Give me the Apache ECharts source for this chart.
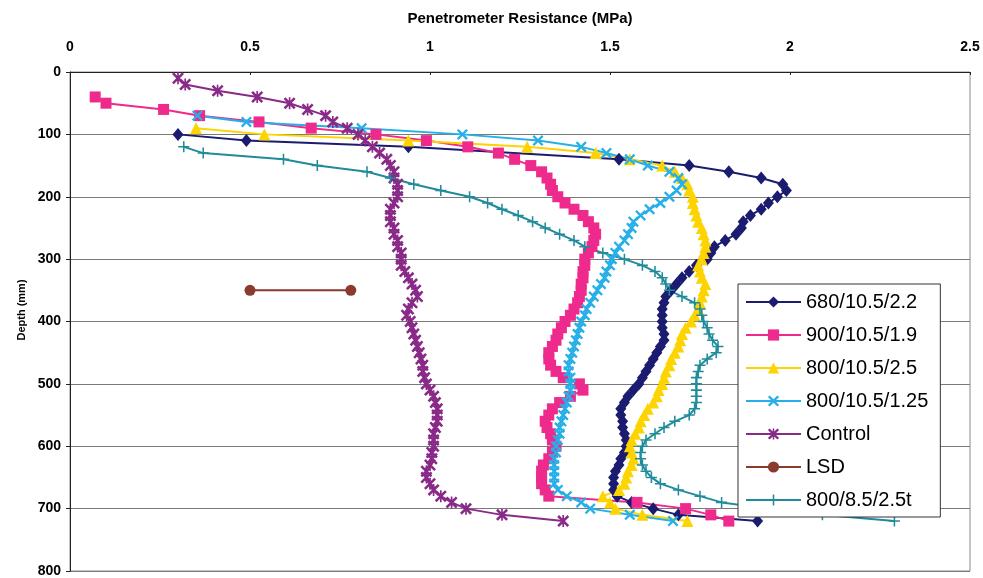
<!DOCTYPE html>
<html>
<head>
<meta charset="utf-8">
<script src="https://cdn.jsdelivr.net/npm/echarts@6/dist/echarts.min.js"></script>
<style>
html,body{margin:0;padding:0;background:#ffffff;}
#chart{width:983px;height:578px;}
</style>
</head>
<body>
<div id="chart"></div>
<script>
// Depth (mm), Penetrometer resistance (MPa)
const xTicks = [0, 0.5, 1, 1.5, 2, 2.5];
const yTicks = [0, 100, 200, 300, 400, 500, 600, 700, 800];
const seriesNames = ['680/10.5/2.2', '900/10.5/1.9', '800/10.5/2.5', '800/10.5/1.25', 'Control', 'LSD', '800/8.5/2.5t'];

const s680 = [[100,0.30],[110,0.49],[120,0.94],[140,1.525],[150,1.72],[160,1.83],[170,1.92],[180,1.98],[190,1.99],[200,1.965],[210,1.94],[220,1.92],[230,1.89],[240,1.87],[250,1.865],[260,1.85],[270,1.82],[280,1.79],[290,1.78],[300,1.77],[310,1.74],[320,1.72],[330,1.70],[340,1.685],[350,1.67],[360,1.655],[370,1.65],[380,1.645],[390,1.645],[400,1.645],[410,1.645],[420,1.65],[430,1.65],[440,1.64],[450,1.63],[460,1.62],[470,1.61],[480,1.60],[490,1.59],[500,1.58],[510,1.565],[520,1.55],[530,1.54],[540,1.53],[550,1.53],[560,1.535],[570,1.535],[580,1.54],[590,1.545],[600,1.545],[610,1.54],[620,1.53],[630,1.525],[640,1.515],[650,1.51],[660,1.51],[670,1.51],[680,1.52],[690,1.56],[700,1.62],[710,1.69],[720,1.91]];

const s900 = [[40,0.07],[50,0.10],[60,0.26],[70,0.36],[80,0.525],[90,0.67],[100,0.85],[110,0.99],[120,1.105],[130,1.19],[140,1.235],[150,1.28],[160,1.31],[170,1.325],[180,1.335],[190,1.34],[200,1.355],[210,1.375],[220,1.40],[230,1.425],[240,1.44],[250,1.455],[260,1.46],[270,1.455],[280,1.45],[290,1.44],[300,1.43],[310,1.43],[320,1.425],[330,1.425],[340,1.42],[350,1.42],[360,1.415],[370,1.41],[380,1.40],[390,1.39],[400,1.375],[410,1.365],[420,1.355],[430,1.35],[440,1.34],[450,1.33],[460,1.33],[470,1.335],[480,1.35],[490,1.37],[500,1.415],[510,1.425],[520,1.39],[530,1.36],[540,1.34],[550,1.33],[560,1.32],[570,1.325],[580,1.335],[590,1.34],[600,1.35],[610,1.34],[620,1.33],[630,1.315],[640,1.31],[650,1.31],[660,1.31],[670,1.32],[680,1.33],[690,1.575],[700,1.71],[710,1.78],[720,1.83]];

const s800a = [[90,0.35],[100,0.54],[110,0.94],[120,1.27],[130,1.46],[140,1.555],[150,1.645],[160,1.68],[170,1.70],[180,1.715],[190,1.72],[200,1.73],[210,1.73],[220,1.735],[230,1.74],[240,1.745],[250,1.755],[260,1.76],[270,1.765],[280,1.765],[290,1.76],[300,1.755],[310,1.745],[320,1.75],[330,1.755],[340,1.765],[350,1.76],[360,1.755],[370,1.75],[380,1.745],[390,1.735],[400,1.725],[410,1.71],[420,1.70],[430,1.695],[440,1.69],[450,1.68],[460,1.67],[470,1.665],[480,1.655],[490,1.65],[500,1.645],[510,1.635],[520,1.63],[530,1.62],[540,1.605],[550,1.595],[560,1.585],[570,1.58],[580,1.57],[590,1.56],[600,1.555],[610,1.56],[620,1.565],[630,1.56],[640,1.55],[650,1.545],[660,1.54],[670,1.525],[680,1.48],[690,1.50],[700,1.515],[710,1.59],[720,1.715]];

const s800b = [[70,0.354],[80,0.49],[90,0.81],[100,1.09],[110,1.30],[120,1.42],[130,1.49],[140,1.555],[150,1.605],[160,1.665],[170,1.69],[180,1.70],[190,1.685],[200,1.665],[210,1.64],[220,1.61],[230,1.585],[240,1.565],[250,1.56],[260,1.55],[270,1.54],[280,1.525],[290,1.515],[300,1.505],[310,1.50],[320,1.49],[330,1.485],[340,1.475],[350,1.465],[360,1.455],[370,1.445],[380,1.435],[390,1.43],[400,1.42],[410,1.415],[420,1.41],[430,1.405],[440,1.40],[450,1.395],[460,1.39],[470,1.385],[480,1.385],[490,1.39],[500,1.39],[510,1.39],[520,1.385],[530,1.38],[540,1.375],[550,1.37],[560,1.365],[570,1.36],[580,1.36],[590,1.355],[600,1.35],[610,1.35],[620,1.345],[630,1.345],[640,1.345],[650,1.345],[660,1.345],[670,1.355],[680,1.38],[690,1.42],[700,1.445],[710,1.555],[720,1.675]];

const sControl = [[10,0.30],[20,0.32],[30,0.41],[40,0.52],[50,0.61],[60,0.66],[70,0.71],[80,0.73],[90,0.77],[100,0.80],[110,0.82],[120,0.84],[130,0.86],[140,0.88],[150,0.89],[160,0.90],[170,0.90],[180,0.91],[190,0.91],[200,0.91],[210,0.90],[220,0.89],[230,0.89],[240,0.89],[250,0.90],[260,0.90],[270,0.91],[280,0.91],[290,0.92],[300,0.92],[310,0.92],[320,0.93],[330,0.94],[340,0.95],[350,0.96],[360,0.965],[370,0.95],[380,0.94],[390,0.935],[400,0.945],[410,0.95],[420,0.955],[430,0.96],[440,0.965],[450,0.97],[460,0.975],[470,0.98],[480,0.98],[490,0.985],[500,0.99],[510,1.0],[520,1.01],[530,1.015],[540,1.02],[550,1.02],[560,1.02],[570,1.015],[580,1.01],[590,1.01],[600,1.01],[610,1.005],[620,1.005],[630,1.0],[640,0.99],[650,0.99],[660,1.0],[670,1.01],[680,1.03],[690,1.06],[700,1.10],[710,1.20],[720,1.37]];

const sLSD = [[350,0.50],[350,0.78]];

const s800t = [[120,0.316],[130,0.37],[140,0.593],[150,0.687],[160,0.825],[170,0.89],[180,0.955],[190,1.03],[200,1.11],[210,1.16],[220,1.20],[230,1.245],[240,1.285],[250,1.32],[260,1.36],[270,1.40],[280,1.43],[290,1.48],[300,1.54],[310,1.59],[320,1.625],[330,1.645],[340,1.655],[350,1.665],[360,1.70],[370,1.735],[380,1.75],[390,1.755],[400,1.76],[410,1.77],[420,1.775],[430,1.785],[440,1.80],[450,1.795],[460,1.77],[470,1.75],[480,1.745],[490,1.74],[500,1.74],[510,1.74],[520,1.74],[530,1.74],[540,1.735],[550,1.72],[560,1.68],[570,1.65],[580,1.625],[590,1.60],[600,1.59],[610,1.585],[620,1.585],[630,1.59],[640,1.60],[650,1.615],[660,1.64],[670,1.69],[680,1.75],[690,1.81],[700,1.94],[710,2.09],[720,2.29]];

const FONT = '"Liberation Sans", Arial, Helvetica, sans-serif';
const X_PATH = 'path://M0,1.5L1.5,0L5,3.5L8.5,0L10,1.5L6.5,5L10,8.5L8.5,10L5,6.5L1.5,10L0,8.5L3.5,5Z';
const STAR_PATH = 'path://M0,1.5L1.5,0L5,3.5L8.5,0L10,1.5L6.5,5L10,8.5L8.5,10L5,6.5L1.5,10L0,8.5L3.5,5ZM4.3,0L5.7,0L5.7,10L4.3,10Z';
const PLUS_PATH = 'path://M4.3,0L5.7,0L5.7,10L4.3,10ZM0,4.3L10,4.3L10,5.7L0,5.7Z';

function toXY(arr){ return arr.map(p => [p[1], p[0]]); }

function mk(name, arr, color, symbol, size){
  return {
    name: name, type: 'line', data: toXY(arr),
    symbol: symbol, symbolSize: size,
    lineStyle: {color: color, width: 2},
    itemStyle: {color: color},
    emphasis: {disabled: true},
    animation: false
  };
}

const chart = echarts.init(document.getElementById('chart'), null, {renderer: 'canvas'});
chart.setOption({
  backgroundColor: '#ffffff',
  animation: false,
  textStyle: {fontFamily: FONT},
  grid: {left: 70, top: 72, width: 900, height: 500, show: true, borderColor: '#8a8a8a', borderWidth: 1, backgroundColor: 'transparent'},
  xAxis: {
    type: 'value', position: 'top', min: 0, max: 2.5, interval: 0.5,
    name: 'Penetrometer Resistance (MPa)', nameLocation: 'middle', nameGap: 46,
    nameTextStyle: {fontFamily: FONT, fontWeight: 'bold', fontSize: 15, color: '#000'},
    axisLine: {show: true, lineStyle: {color: '#222', width: 1}},
    axisTick: {show: true, inside: true, length: 3, lineStyle: {color: '#222'}},
    axisLabel: {fontFamily: FONT, fontWeight: 'bold', fontSize: 14, color: '#000', margin: 18,
      formatter: v => String(v)},
    splitLine: {show: false}
  },
  yAxis: {
    type: 'value', inverse: true, min: 0, max: 800, interval: 100,
    axisLine: {show: true, lineStyle: {color: '#222', width: 1}},
    axisTick: {show: true, inside: false, length: 4, lineStyle: {color: '#222'}},
    axisLabel: {fontFamily: FONT, fontWeight: 'bold', fontSize: 14, color: '#000', margin: 9},
    splitLine: {show: true, lineStyle: {color: '#7a7a7a', width: 1}}
  },
  graphic: [{
    type: 'text', x: 22, y: 310, rotation: Math.PI/2,
    style: {text: 'Depth (mm)', fontFamily: FONT, fontWeight: 'bold', fontSize: 11, fill: '#000', align: 'center', verticalAlign: 'middle'}
  }],
  legend: {
    orient: 'vertical', left: 738, top: 284,
    padding: [8, 12, 7, 7], itemGap: 13, itemWidth: 55, itemHeight: 14,
    backgroundColor: '#ffffff', borderColor: '#333', borderWidth: 1,
    textStyle: {fontFamily: FONT, fontSize: 20, color: '#000', lineHeight: 20},
    data: seriesNames
  },
  series: [
    mk(seriesNames[0], s680, '#1b1b70', 'diamond', [11, 13]),
    mk(seriesNames[1], s900, '#ee2a8c', 'rect', 11),
    mk(seriesNames[2], s800a, '#fdd300', 'triangle', 12),
    mk(seriesNames[3], s800b, '#27afe8', X_PATH, 11),
    mk(seriesNames[4], sControl, '#8a2a88', STAR_PATH, 12),
    mk(seriesNames[5], sLSD, '#8b3a2e', 'circle', 11),
    mk(seriesNames[6], s800t, '#1f8b9b', PLUS_PATH, 11)
  ]
});
</script>
</body>
</html>
